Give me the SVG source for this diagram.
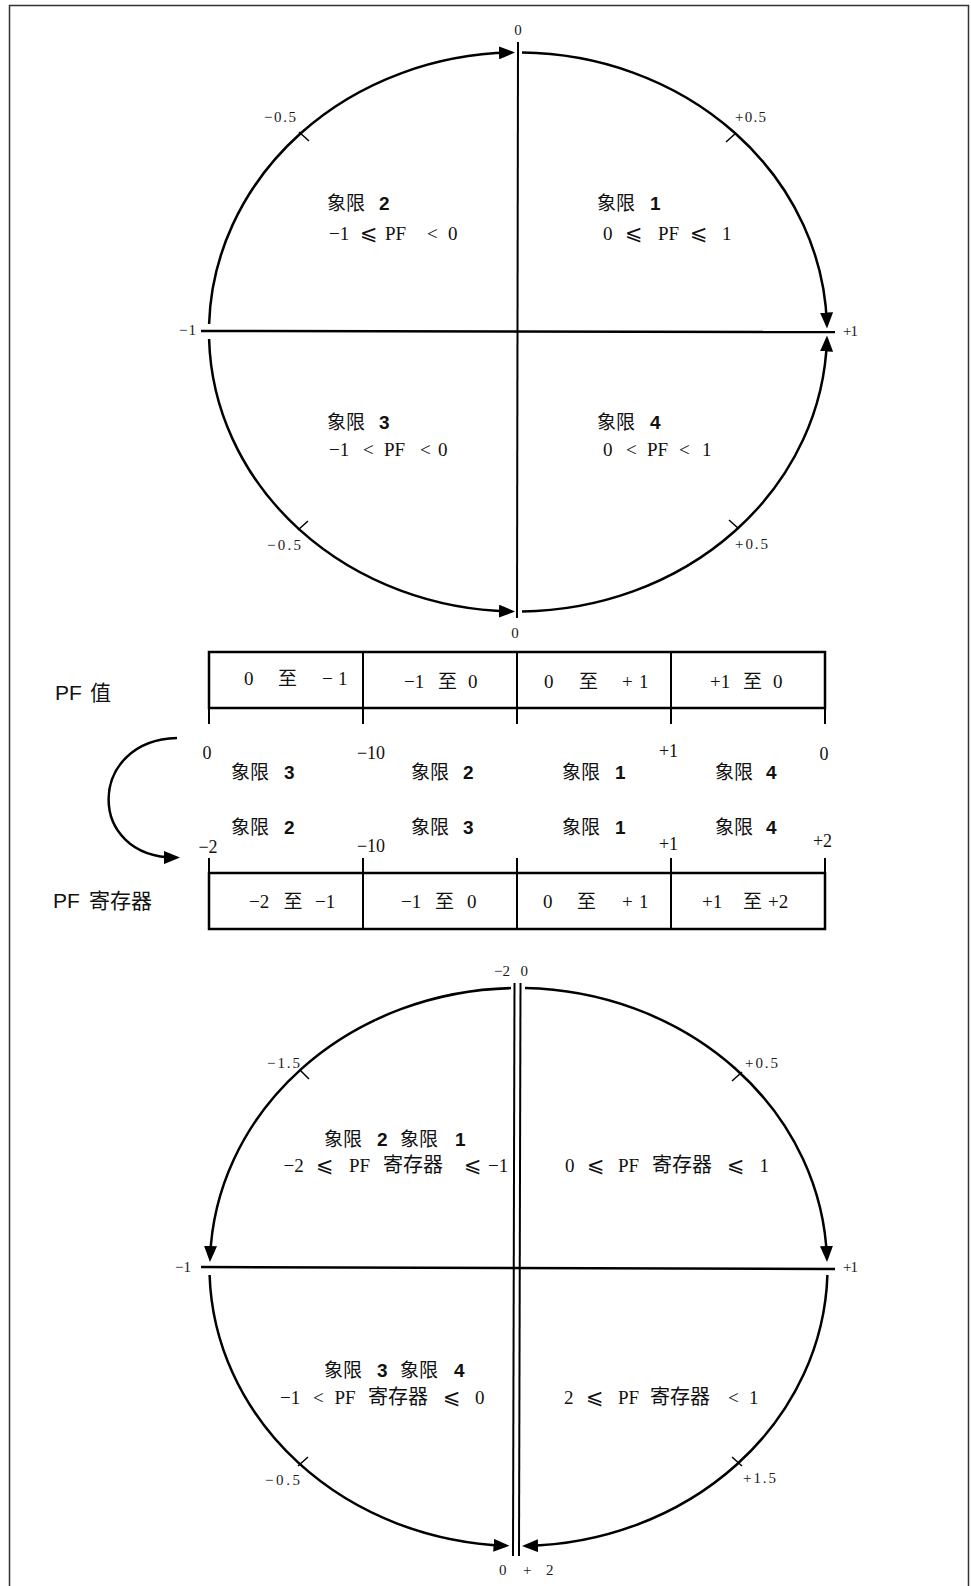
<svg xmlns="http://www.w3.org/2000/svg" width="971" height="1586" viewBox="0 0 971 1586">
<defs>
<style>
.ln{stroke:#000;fill:none}
.arc{stroke:#000;stroke-width:2.5;fill:none;marker-end:url(#ah)}
.tk{stroke:#000;stroke-width:1.5}
.sm{font-family:"Liberation Serif","DejaVu Serif",serif;font-size:15px;fill:#1a1a1a}
.f{font-family:"Liberation Serif","DejaVu Serif",serif;font-size:19px;fill:#111}
.cj{font-family:"Noto Sans CJK SC",sans-serif;font-size:19px;fill:#111}
.bd{font-family:"Liberation Sans",sans-serif;font-size:19px;font-weight:bold;fill:#111}
.le{font-family:"DejaVu Sans",sans-serif;font-size:21px;fill:#111}
.lb{font-family:"Liberation Sans","Noto Sans CJK SC",sans-serif;font-size:21px;fill:#111}
.bar{stroke:#000;stroke-width:2.5;fill:none}
.dv{stroke:#000;stroke-width:2}
</style>
<marker id="ah" markerUnits="userSpaceOnUse" markerWidth="16" markerHeight="13" viewBox="0 0 16 13" refX="12" refY="6.5" orient="auto"><path d="M0,0 L16,6.5 L0,13 z" fill="#000"/></marker>
</defs>
<rect width="971" height="1586" fill="#fff"/>
<path d="M9.5,1586 V5.5 H968.5 V1586" stroke="#333" stroke-width="1.5" fill="none"/>

<!-- Top circle: PF value -->
<g id="circle-top">
<line class="ln" x1="518" y1="42" x2="517" y2="618" stroke-width="2"/>
<line class="ln" x1="201" y1="331" x2="835" y2="332" stroke-width="2.5"/>
<path class="arc" d="M209.1,324 A309,279.5 0 0 1 511,52.6"/>
<path class="arc" d="M522,52.6 A309,279.5 0 0 1 826.9,324.5"/>
<path class="arc" d="M522,611.4 A309,279.5 0 0 0 826.9,339.5"/>
<path class="arc" d="M209.1,339 A309,279.5 0 0 0 511,611.4"/>
<line class="tk" x1="299" y1="132" x2="309" y2="141"/>
<line class="tk" x1="736" y1="133" x2="726" y2="142"/>
<line class="tk" x1="298" y1="530" x2="308" y2="521"/>
<line class="tk" x1="739" y1="529" x2="729" y2="520"/>
<text class="sm" x="518" y="35" text-anchor="middle">0</text>
<text class="sm" x="264" y="121.5" textLength="32" lengthAdjust="spacing">−0.5</text>
<text class="sm" x="735" y="121.5" textLength="31" lengthAdjust="spacing">+0.5</text>
<text class="sm" x="179" y="335" textLength="17" lengthAdjust="spacing">−1</text>
<text class="sm" x="843" y="336" textLength="15" lengthAdjust="spacing">+1</text>
<text class="sm" x="267" y="550" textLength="34" lengthAdjust="spacing">−0.5</text>
<text class="sm" x="735" y="549" textLength="33" lengthAdjust="spacing">+0.5</text>
<text class="sm" x="515" y="638" text-anchor="middle">0</text>
</g>

<g id="q2-top">
<text class="cj" x="327" y="209.5">象限<tspan class="bd" x="379">2</tspan></text>
<text class="f" y="240"><tspan x="329">−1</tspan><tspan class="le" x="360">⩽</tspan><tspan x="385">PF</tspan><tspan x="427">&lt;</tspan><tspan x="448">0</tspan></text>
</g>
<g id="q1-top">
<text class="cj" x="597" y="209.5">象限<tspan class="bd" x="650">1</tspan></text>
<text class="f" y="240"><tspan x="603">0</tspan><tspan class="le" x="625">⩽</tspan><tspan x="658">PF</tspan><tspan class="le" x="690">⩽</tspan><tspan x="722">1</tspan></text>
</g>
<g id="q3-top">
<text class="cj" x="327" y="429">象限<tspan class="bd" x="379">3</tspan></text>
<text class="f" y="456"><tspan x="329">−1</tspan><tspan x="363">&lt;</tspan><tspan x="384">PF</tspan><tspan x="420">&lt;</tspan><tspan x="438">0</tspan></text>
</g>
<g id="q4-top">
<text class="cj" x="597" y="429">象限<tspan class="bd" x="650">4</tspan></text>
<text class="f" y="456"><tspan x="603">0</tspan><tspan x="626">&lt;</tspan><tspan x="647">PF</tspan><tspan x="679">&lt;</tspan><tspan x="702">1</tspan></text>
</g>

<!-- PF value bar -->
<g id="bar-pf-value">
<text class="lb" x="55" y="700">PF<tspan class="cj" x="90" style="font-size:21px">值</tspan></text>
<rect class="bar" x="209" y="652" width="616" height="56"/>
<line class="dv" x1="363" y1="652" x2="363" y2="724"/>
<line class="dv" x1="517" y1="652" x2="517" y2="724"/>
<line class="dv" x1="671" y1="652" x2="671" y2="724"/>
<line class="dv" x1="209" y1="708" x2="209" y2="724"/>
<line class="dv" x1="825" y1="708" x2="825" y2="724"/>
<text class="f" y="685"><tspan x="244">0</tspan><tspan class="cj" x="278">至</tspan><tspan x="322">−</tspan><tspan x="338">1</tspan></text>
<text class="f" y="688"><tspan x="404">−1</tspan><tspan class="cj" x="438">至</tspan><tspan x="468">0</tspan></text>
<text class="f" y="688"><tspan x="544">0</tspan><tspan class="cj" x="579">至</tspan><tspan x="622">+</tspan><tspan x="639">1</tspan></text>
<text class="f" y="688"><tspan x="710">+1</tspan><tspan class="cj" x="743">至</tspan><tspan x="773">0</tspan></text>
</g>

<!-- Mapping labels -->
<g id="mapping">
<text class="f" x="207" y="759" text-anchor="middle" style="font-size:18px">0</text>
<text class="f" x="371" y="759" text-anchor="middle" style="font-size:18px">−10</text>
<text class="f" x="668.5" y="757" text-anchor="middle" style="font-size:18px">+1</text>
<text class="f" x="824" y="760" text-anchor="middle" style="font-size:18px">0</text>
<text class="cj" x="231" y="779">象限<tspan class="bd" x="284">3</tspan></text>
<text class="cj" x="411" y="779">象限<tspan class="bd" x="463">2</tspan></text>
<text class="cj" x="562" y="779">象限<tspan class="bd" x="615">1</tspan></text>
<text class="cj" x="715" y="779">象限<tspan class="bd" x="766">4</tspan></text>
<text class="cj" x="231" y="834">象限<tspan class="bd" x="284">2</tspan></text>
<text class="cj" x="411" y="834">象限<tspan class="bd" x="463">3</tspan></text>
<text class="cj" x="562" y="834">象限<tspan class="bd" x="615">1</tspan></text>
<text class="cj" x="715" y="834">象限<tspan class="bd" x="766">4</tspan></text>
<text class="f" x="208" y="853" text-anchor="middle" style="font-size:18px">−2</text>
<text class="f" x="371" y="852" text-anchor="middle" style="font-size:18px">−10</text>
<text class="f" x="668.5" y="850" text-anchor="middle" style="font-size:18px">+1</text>
<text class="f" x="822.5" y="847" text-anchor="middle" style="font-size:18px">+2</text>
</g>

<g id="connectors">
<path class="arc" d="M177,738 C87,740 85,858 176,857.5"/>
</g>

<!-- PF register bar -->
<g id="bar-pf-register">
<text class="lb" x="53" y="908">PF<tspan class="cj" x="89" style="font-size:21px">寄存器</tspan></text>
<rect class="bar" x="209" y="873" width="616" height="56"/>
<line class="dv" x1="363" y1="858" x2="363" y2="929"/>
<line class="dv" x1="517" y1="858" x2="517" y2="929"/>
<line class="dv" x1="671" y1="858" x2="671" y2="929"/>
<line class="dv" x1="209" y1="858" x2="209" y2="873"/>
<line class="dv" x1="825" y1="858" x2="825" y2="873"/>
<text class="f" y="908"><tspan x="249">−2</tspan><tspan class="cj" x="283.5">至</tspan><tspan x="315">−1</tspan></text>
<text class="f" y="908"><tspan x="401">−1</tspan><tspan class="cj" x="435">至</tspan><tspan x="467">0</tspan></text>
<text class="f" y="908"><tspan x="543">0</tspan><tspan class="cj" x="577">至</tspan><tspan x="622">+</tspan><tspan x="639">1</tspan></text>
<text class="f" y="908"><tspan x="702">+1</tspan><tspan class="cj" x="743">至</tspan><tspan x="768">+2</tspan></text>
</g>

<!-- Bottom circle: PF register -->
<g id="circle-bottom">
<line class="ln" x1="514.5" y1="983" x2="513" y2="1556" stroke-width="2"/>
<line class="ln" x1="520.5" y1="983" x2="519" y2="1556" stroke-width="2"/>
<line class="ln" x1="201" y1="1267" x2="835" y2="1269" stroke-width="2.5"/>
<path class="arc" d="M511,988.1 A309,279 0 0 0 210.1,1258"/>
<path class="arc" d="M525,988.1 A309,279 0 0 1 826.9,1258"/>
<path class="arc" d="M209.6,1275 A309,279 0 0 0 505.5,1545.7"/>
<path class="arc" d="M827.4,1275 A309,279 0 0 1 526,1545.9"/>
<line class="tk" x1="300" y1="1070" x2="309" y2="1079"/>
<line class="tk" x1="742" y1="1072" x2="732" y2="1081"/>
<line class="tk" x1="298" y1="1466" x2="308" y2="1457"/>
<line class="tk" x1="742" y1="1466" x2="732" y2="1457"/>
<text class="sm" y="975.5"><tspan x="494">−2</tspan><tspan x="520.5">0</tspan></text>
<text class="sm" x="267" y="1068" textLength="33" lengthAdjust="spacing">−1.5</text>
<text class="sm" x="745" y="1068" textLength="33" lengthAdjust="spacing">+0.5</text>
<text class="sm" x="175" y="1272" textLength="16" lengthAdjust="spacing">−1</text>
<text class="sm" x="843" y="1272" textLength="15" lengthAdjust="spacing">+1</text>
<text class="sm" x="265" y="1485" textLength="35" lengthAdjust="spacing">−0.5</text>
<text class="sm" x="743" y="1483" textLength="33" lengthAdjust="spacing">+1.5</text>
<text class="sm" y="1575"><tspan x="499">0</tspan><tspan x="523">+</tspan><tspan x="546">2</tspan></text>
</g>

<g id="q21-bottom">
<text class="cj" x="324" y="1146">象限<tspan class="bd" x="377">2</tspan><tspan x="400">象限</tspan><tspan class="bd" x="455">1</tspan></text>
<text class="f" y="1172"><tspan x="283.5">−2</tspan><tspan class="le" x="316">⩽</tspan><tspan x="349">PF</tspan><tspan class="cj" x="383" style="font-size:20px">寄存器</tspan><tspan class="le" x="464">⩽</tspan><tspan x="488">−1</tspan></text>
</g>
<g id="q1-bottom">
<text class="f" y="1172"><tspan x="565">0</tspan><tspan class="le" x="587">⩽</tspan><tspan x="618">PF</tspan><tspan class="cj" x="652" style="font-size:20px">寄存器</tspan><tspan class="le" x="727">⩽</tspan><tspan x="759.5">1</tspan></text>
</g>
<g id="q34-bottom">
<text class="cj" x="324" y="1377">象限<tspan class="bd" x="377">3</tspan><tspan x="400">象限</tspan><tspan class="bd" x="454">4</tspan></text>
<text class="f" y="1404"><tspan x="280">−1</tspan><tspan x="313">&lt;</tspan><tspan x="334.5">PF</tspan><tspan class="cj" x="368" style="font-size:20px">寄存器</tspan><tspan class="le" x="443">⩽</tspan><tspan x="475">0</tspan></text>
</g>
<g id="q4-bottom">
<text class="f" y="1404"><tspan x="564">2</tspan><tspan class="le" x="586">⩽</tspan><tspan x="618">PF</tspan><tspan class="cj" x="650" style="font-size:20px">寄存器</tspan><tspan x="728">&lt;</tspan><tspan x="749">1</tspan></text>
</g>
</svg>
